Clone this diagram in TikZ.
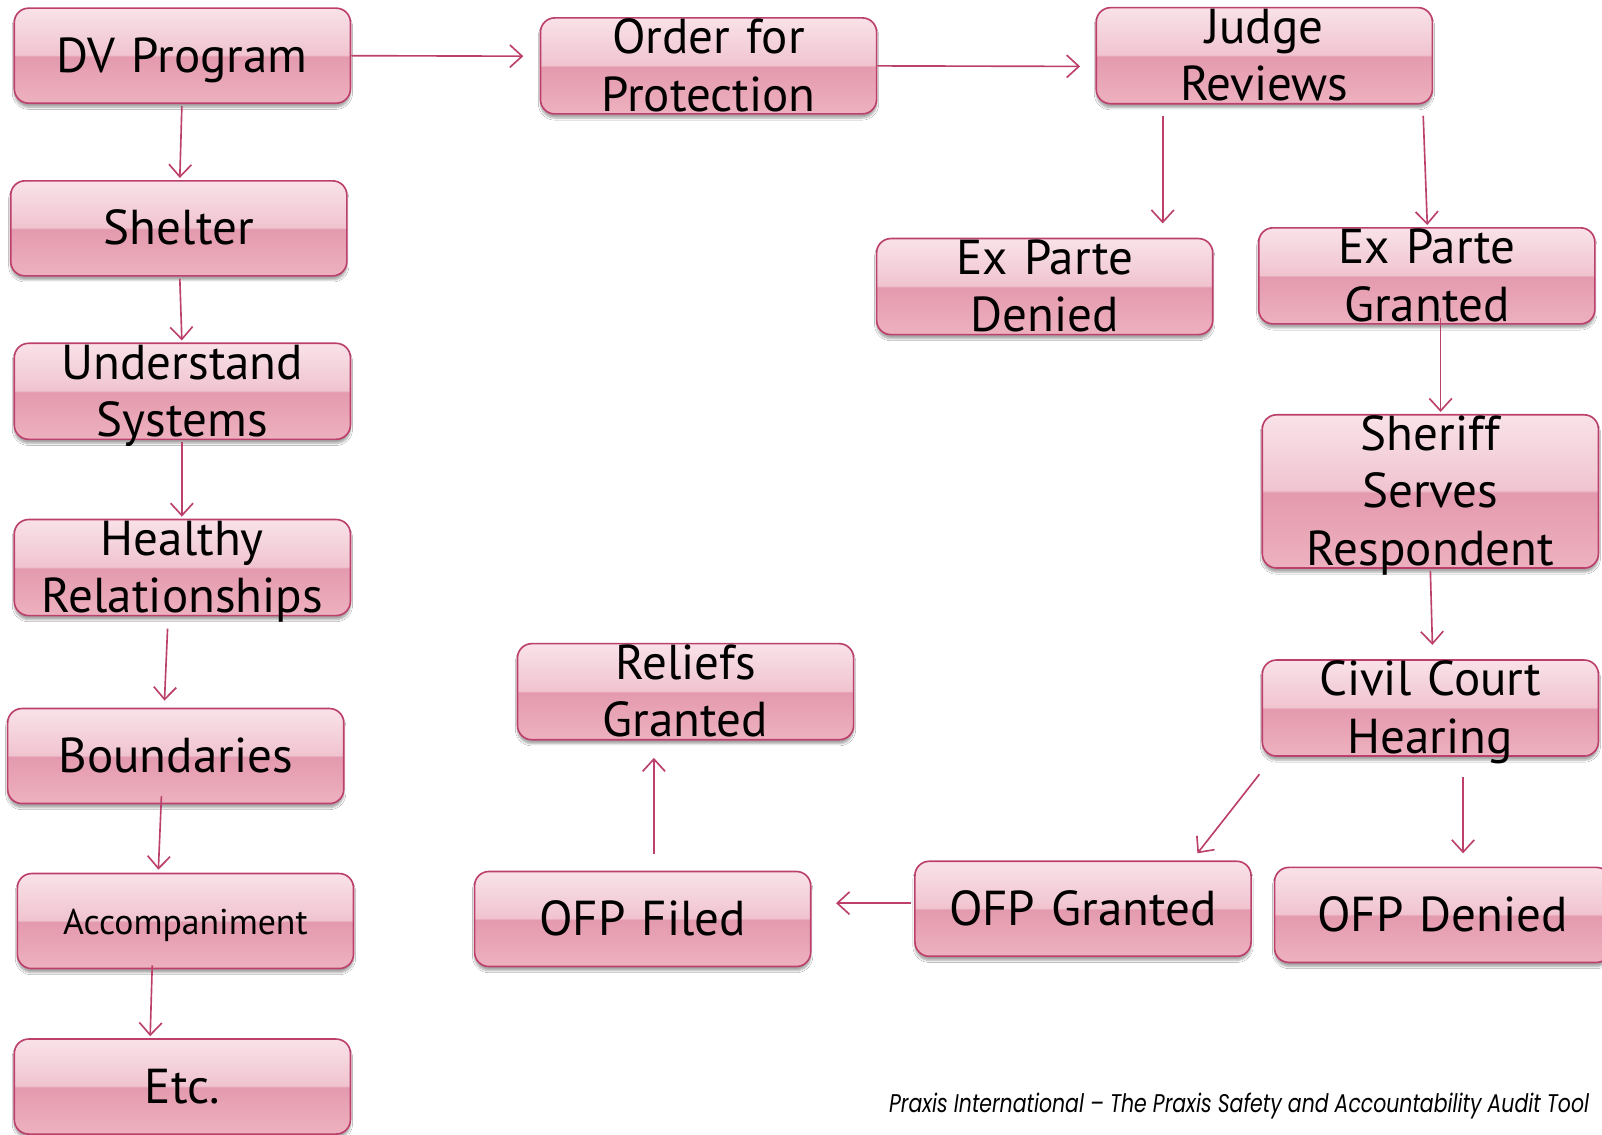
\documentclass[tikz,border=0pt]{standalone}
\usepackage{fontspec}
\setmainfont{PT Sans}
\newfontfamily\footfont{Poppins}[FakeStretch=0.8]
\usetikzlibrary{arrows.meta,shadows.blur}
\definecolor{bord}{RGB}{188,64,108}
\definecolor{gT}{RGB}{249,226,232}
\definecolor{gU}{RGB}{240,196,208}
\definecolor{gM}{RGB}{228,154,174}
\definecolor{gB}{RGB}{237,177,191}
\pgfdeclareverticalshading{glossy}{100bp}{color(0bp)=(gB); color(25bp)=(gB); color(49.5bp)=(gM); color(50.5bp)=(gU); color(75bp)=(gT); color(100bp)=(gT)}
\newcommand\boxtxt[1]{\raisebox{0pt}[\dimexpr\height+10pt\relax][\depth]{\begin{tabular}{@{}c@{}}#1\end{tabular}}}
\begin{document}
\begin{tikzpicture}[x=1pt,y=-1pt,
  box/.style={draw=bord, line width=1.6pt, rounded corners=14pt, shading=glossy,
    minimum width=329pt, minimum height=93pt, inner xsep=0pt, inner ysep=-14pt, align=center,
    text width=329pt, font=\fontsize{48}{56}\selectfont,
    blur shadow={shadow xshift=0pt, shadow yshift=-4pt, shadow blur steps=6, shadow opacity=35}},
  arr/.style={draw=bord, line width=1.6pt, -{Straight Barb[length=12pt,width=22pt]}}]
\clip (0,0) rectangle (1568,1110);
\fill[white] (0,0) rectangle (1568,1110);
% nodes
\node[box] (dv) at (178.5,54.5) {\boxtxt{DV Program}};
\node[box] (ofp) at (693.5,64.5) {\boxtxt{Order for\\Protection}};
\node[box] (judge) at (1237.5,54.5) {\boxtxt{Judge\\Reviews}};
\node[box] (shelter) at (175,223.5) {\boxtxt{Shelter}};
\node[box] (epd) at (1022.5,280.5) {\boxtxt{Ex Parte\\Denied}};
\node[box] (epg) at (1396.5,270) {\boxtxt{Ex Parte\\Granted}};
\node[box] (und) at (178.5,383) {\boxtxt{Understand\\Systems}};
\node[box, minimum height=148pt] (sher) at (1400,481) {\boxtxt{Sheriff\\Serves\\Respondent}};
\node[box] (heal) at (178.5,555.5) {\boxtxt{Healthy\\Relationships}};
\node[box] (rel) at (671,677) {\boxtxt{Reliefs\\Granted}};
\node[box] (civ) at (1400,693) {\boxtxt{Civil Court\\Hearing}};
\node[box] (bound) at (172,740) {\boxtxt{Boundaries}};
\node[box] (filed) at (629,899.5) {\boxtxt{OFP Filed}};
\node[box] (ofpg) at (1060,889.5) {\boxtxt{OFP Granted}};
\node[box] (ofpd) at (1412,895.5) {\boxtxt{OFP Denied}};
\node[box, font=\fontsize{35}{42}\selectfont] (acc) at (181.5,901.5) {\boxtxt{Accompaniment}};
\node[box] (etc) at (178.5,1063.5) {\boxtxt{Etc.}};
\node[anchor=base west, font=\footfont\itshape\fontsize{25}{29}\selectfont, inner sep=0pt] (foot) at (870,1089) {Praxis International – The Praxis Safety and Accountability Audit Tool};
% connectors
\draw[arr] (dv.east) -- ([shift={(-16,-9.5)}]ofp.west);
\draw[arr] (ofp.east) -- ([shift={(-15,10.5)}]judge.west);
\draw[arr] ([shift={(-99.5,11)}]judge.south) -- ([shift={(115.5,-14)}]epd.north);
\draw[arr] ([shift={(155.5,11)}]judge.south) -- ([shift={(0.5,-2)}]epg.north);
\draw[arr] ([shift={(13.5,-7)}]epg.south) -- ([shift={(10,-2)}]sher.north);
\draw[arr] ([shift={(0,2)}]sher.south) -- ([shift={(2,-14)}]civ.north);
\draw[arr] ([shift={(-2,17)}]civ.south west) -- ([shift={(112,-7)}]ofpg.north);
\draw[arr] ([shift={(32,20)}]civ.south) -- ([shift={(20,-13)}]ofpd.north);
\draw[arr] ([shift={(-3,-5.5)}]ofpg.west) -- ([shift={(24,-15.5)}]filed.east);
\draw[arr] ([shift={(11,-16)}]filed.north) -- ([shift={(-31,17)}]rel.south);
\draw[arr] ([shift={(-0.5,2)}]dv.south) -- ([shift={(1,-2)}]shelter.north);
\draw[arr] ([shift={(1,2)}]shelter.south) -- ([shift={(-0.5,-2)}]und.north);
\draw[arr] ([shift={(-0.5,2)}]und.south) -- ([shift={(-0.5,-2)}]heal.north);
\draw[arr] ([shift={(-14.5,12)}]heal.south) -- ([shift={(-11,-7)}]bound.north);
\draw[arr] ([shift={(-14,-8)}]bound.south) -- ([shift={(-26.5,-3)}]acc.north);
\draw[arr] ([shift={(-32.5,-4)}]acc.south) -- ([shift={(-31.5,-2)}]etc.north);
\end{tikzpicture}
\end{document}
